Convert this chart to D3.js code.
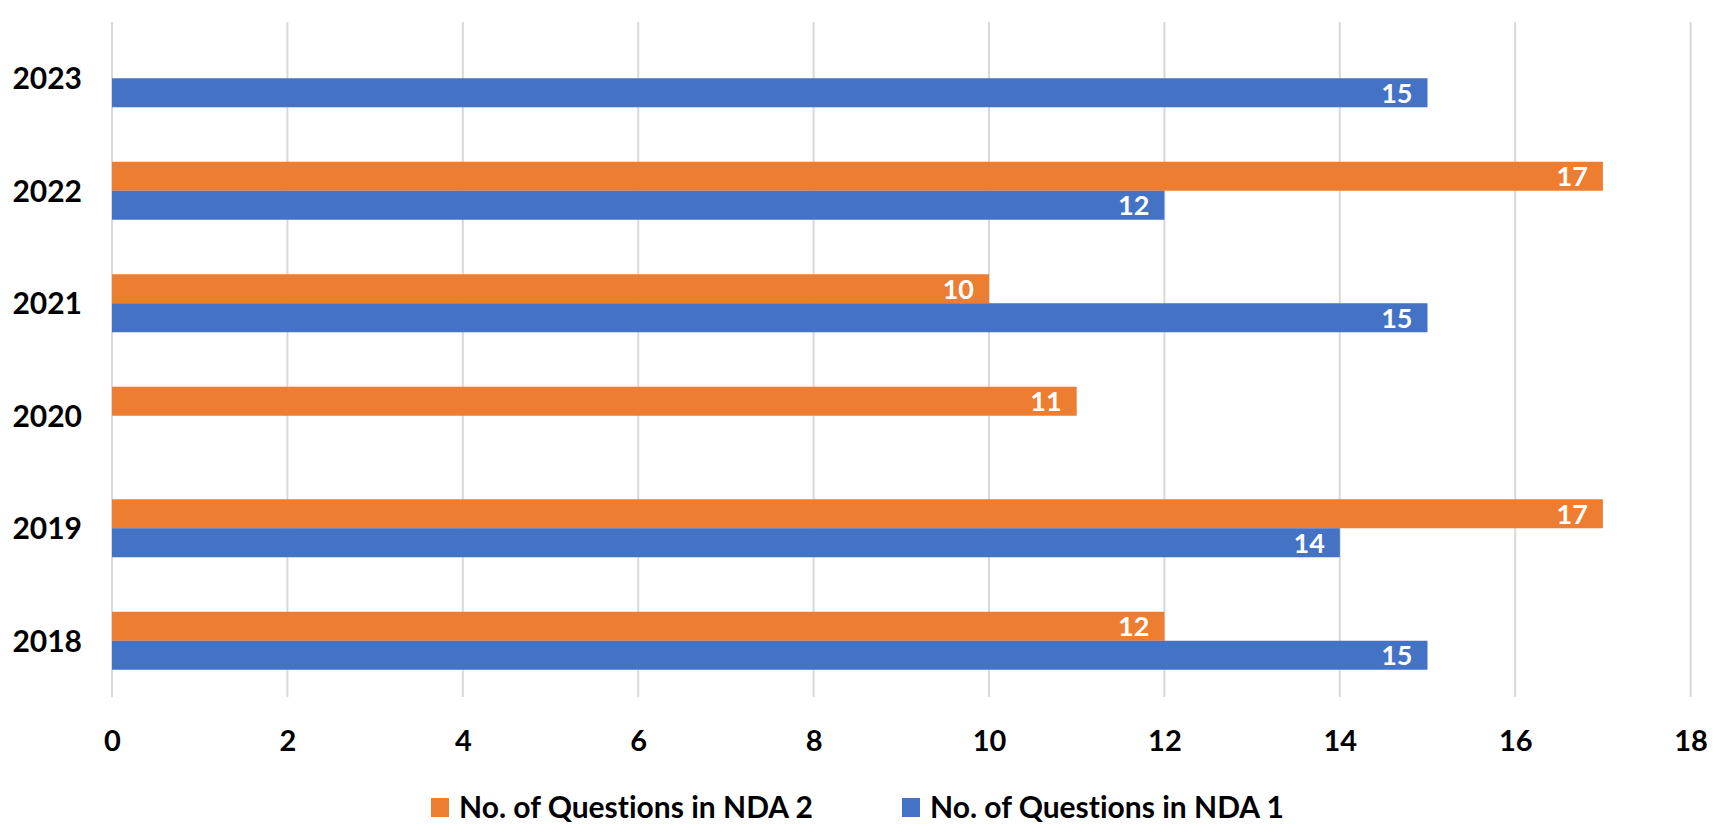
<!DOCTYPE html>
<html>
<head>
<meta charset="utf-8">
<script src="https://cdn.jsdelivr.net/npm/d3@7"></script>
<style>
  html, body { margin: 0; padding: 0; background: #fff; }
  svg { display: block; }
  text { font-family: Lato, "Open Sans", sans-serif; font-weight: 700; font-variant-ligatures: none; }
</style>
</head>
<body>
<svg id="chart" width="1730" height="837"></svg>
<script>
const years = ["2018", "2019", "2020", "2021", "2022", "2023"];
const nda1 = [15, 14, null, 15, 12, 15];
const nda2 = [12, 17, 11, 10, 17, null];
const seriesNames = ["No. of Questions in NDA 2", "No. of Questions in NDA 1"];
const seriesKeys = ["nda2", "nda1"];
const seriesColors = ["#ED7D31", "#4472C4"];
const xTicks = [0, 2, 4, 6, 8, 10, 12, 14, 16, 18];

const svg = d3.select("#chart");
const plot = { left: 112, right: 1690.6, top: 22, bottom: 697 };

const x = d3.scaleLinear().domain([0, 18]).range([plot.left, plot.right]);
const y = d3.scaleBand().domain(years.slice().reverse()).range([plot.top, plot.bottom]).paddingInner(0).paddingOuter(0);
const groupFrac = 58 / 112.5;

// gridlines
svg.append("g").selectAll("line").data(xTicks).join("line")
  .attr("x1", d => x(d)).attr("x2", d => x(d))
  .attr("y1", plot.top).attr("y2", plot.bottom)
  .attr("stroke", "#D9D9D9").attr("stroke-width", 2);

// x axis labels
const xAxis = d3.axisBottom(x).tickValues(xTicks).tickSize(0).tickPadding(0).tickFormat(d3.format("d"));
const gx = svg.append("g").attr("transform", `translate(0, ${plot.bottom})`).call(xAxis);
gx.select(".domain").remove();
gx.selectAll("text").attr("font-size", 29).attr("fill", "#000").attr("dy", null).attr("y", 54)
  .attr("font-family", "Lato, sans-serif").attr("font-weight", 700);

// y axis labels
const yAxis = d3.axisLeft(y).tickSize(0).tickPadding(0);
const gy = svg.append("g").attr("transform", `translate(82, 0)`).call(yAxis);
gy.select(".domain").remove();
gy.selectAll("text").attr("font-size", 30).attr("fill", "#000").attr("dy", "0.36em").attr("x", 0)
  .attr("font-family", "Lato, sans-serif").attr("font-weight", 700);

// bars
const rows = years.map((yr, i) => ({ year: yr, nda1: nda1[i], nda2: nda2[i] }));
const sub = d3.scaleBand().domain(seriesKeys);

const groups = svg.append("g").selectAll("g").data(rows).join("g")
  .attr("transform", d => {
    const c = y(d.year) + y.bandwidth() / 2;
    return `translate(0, ${c - y.bandwidth() * groupFrac / 2})`;
  });
sub.range([0, y.bandwidth() * groupFrac]);

seriesKeys.forEach((k, si) => {
  const g = groups.filter(d => d[k] != null);
  g.append("rect")
    .attr("x", x(0))
    .attr("y", sub(k))
    .attr("width", d => x(d[k]) - x(0))
    .attr("height", sub.bandwidth())
    .attr("fill", seriesColors[si]);
  g.append("text")
    .attr("x", d => x(d[k]) - 15)
    .attr("y", sub(k) + sub.bandwidth() / 2)
    .attr("dy", "0.37em")
    .attr("text-anchor", "end")
    .attr("font-size", 27)
    .attr("fill", "#fff")
    .text(d => d[k]);
});

// legend
const legendX = [431, 902];
const leg = svg.append("g").selectAll("g").data(seriesNames).join("g")
  .attr("transform", (d, i) => `translate(${legendX[i]}, 798)`);
leg.append("rect").attr("width", 18).attr("height", 19).attr("fill", (d, i) => seriesColors[i]);
leg.append("text").attr("x", 28).attr("y", 19.5).attr("font-size", 30).attr("fill", "#000")
  .text(d => d);
</script>
</body>
</html>
